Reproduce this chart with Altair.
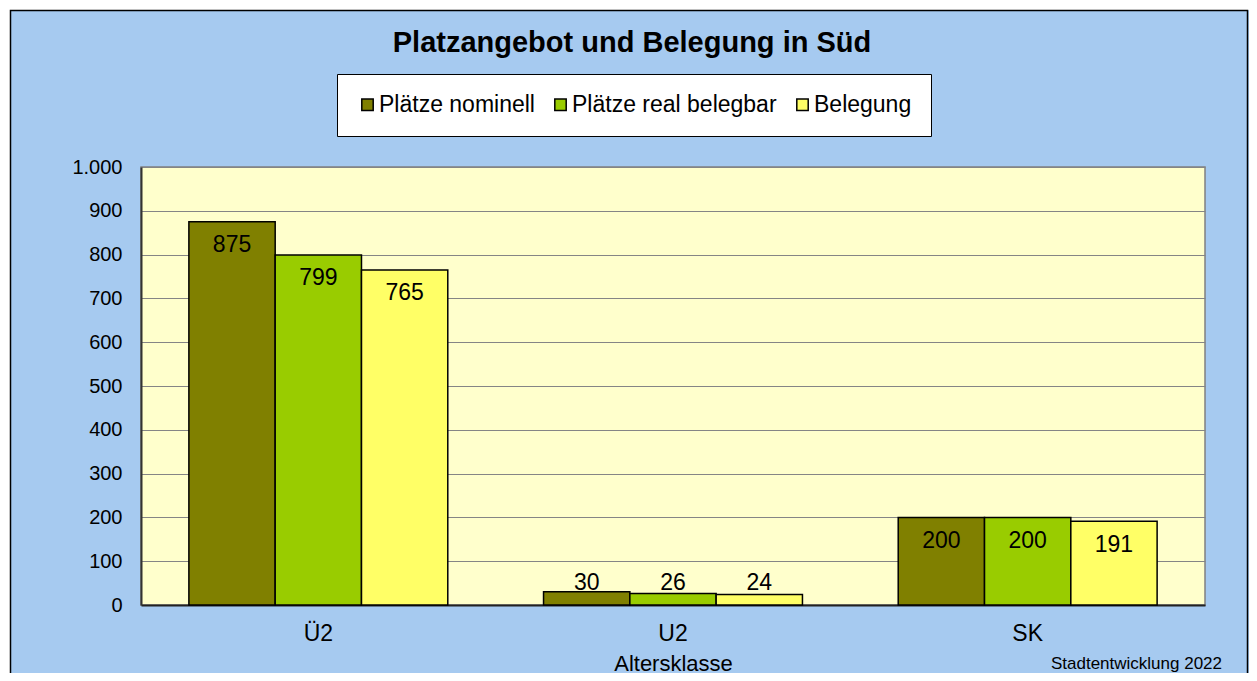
import altair as alt
import pandas as pd

categories = ["Ü2", "U2", "SK"]
series = ["Plätze nominell", "Plätze real belegbar", "Belegung"]
nominell = [875, 30, 200]
real_belegbar = [799, 26, 200]
belegung = [765, 24, 191]
colors = ["#808000", "#99CC00", "#FFFF66"]
y_ticks = list(range(0, 1001, 100))
title_text = "Platzangebot und Belegung in Süd"
x_title = "Altersklasse"
footnote = "Stadtentwicklung 2022"

rows = []
for s, vals in zip(series, [nominell, real_belegbar, belegung]):
    for c, v in zip(categories, vals):
        rows.append({"Altersklasse": c, "Serie": s, "Wert": v})
df = pd.DataFrame(rows)

W, H = 1064, 438
FONT = "Liberation Sans"

x_enc = alt.X(
    "Altersklasse:N", sort=categories,
    scale=alt.Scale(paddingInner=0.27, paddingOuter=0.135),
    axis=alt.Axis(title=x_title, labelAngle=0, labelFontSize=23, labelPadding=17,
                  ticks=False, tickSize=0, titleFontSize=22, titleFontWeight="normal",
                  titlePadding=8, domainColor="#222222", domainWidth=2,
                  labelColor="black", titleColor="black"),
)
xo_enc = alt.XOffset("Serie:N", sort=series, scale=alt.Scale(paddingInner=0, paddingOuter=0))
y_enc = alt.Y(
    "Wert:Q", title=None, scale=alt.Scale(domain=[0, 1000]),
    axis=alt.Axis(values=y_ticks,
                  labelExpr="replace(format(datum.value, ','), ',', '.')",
                  labelFontSize=20, labelPadding=19, ticks=False, tickSize=0,
                  grid=True, gridColor="#858585", gridWidth=1.2,
                  domainColor="#333333", domainWidth=2, labelColor="black"),
)
color_enc = alt.Color(
    "Serie:N", sort=series, scale=alt.Scale(domain=series, range=colors),
    legend=alt.Legend(orient="none", legendX=196, legendY=-93, direction="horizontal",
                      title=None, fillColor="white", strokeColor="black", padding=19,
                      symbolType="square", symbolSize=130, symbolStrokeColor="black",
                      symbolStrokeWidth=1.5, symbolOpacity=1, labelFontSize=23, labelOffset=0,
                      columnPadding=14, labelLimit=400, labelColor="black"),
)

bars = alt.Chart(df).mark_bar(stroke="black", strokeWidth=1.5, opacity=1).encode(
    x=x_enc, xOffset=xo_enc, y=y_enc, color=color_enc
)

labels = alt.Chart(df).transform_calculate(
    pos="max(datum.Wert - 53, 50)"
).mark_text(fontSize=23, baseline="middle", align="center", color="black").encode(
    x=alt.X("Altersklasse:N", sort=categories),
    xOffset=alt.XOffset("Serie:N", sort=series),
    y=alt.Y("pos:Q", title=None, scale=alt.Scale(domain=[0, 1000])),
    text=alt.Text("Wert:Q"),
)

one = pd.DataFrame({"t": [title_text], "f": [footnote]})

white_frame = alt.Chart(one).mark_rect(fillOpacity=0, stroke="white", strokeWidth=2.5).encode(
    x=alt.value(-132), x2=alt.value(1112), y=alt.value(-158), y2=alt.value(600)
)
black_frame = alt.Chart(one).mark_rect(fillOpacity=0, stroke="black", strokeWidth=1.5).encode(
    x=alt.value(-130.5), x2=alt.value(1106.5), y=alt.value(-156.5), y2=alt.value(600)
)

title_mark = alt.Chart(one).mark_text(fontSize=29, fontWeight="bold", baseline="middle",
                                      align="center", color="black").encode(
    x=alt.value(491), y=alt.value(-124), text="t:N"
)
foot_mark = alt.Chart(one).mark_text(fontSize=17, baseline="middle", align="right",
                                     color="black").encode(
    x=alt.value(1081), y=alt.value(497), text="f:N"
)

chart = alt.layer(white_frame, black_frame, bars, labels, title_mark, foot_mark).properties(
    width=W, height=H,
    autosize=alt.AutoSizeParams(type="none"),
    padding={"left": 133, "top": 159, "right": 44, "bottom": 68},
    background="#A6CAF0",
).configure(font=FONT).configure_view(
    fill="#FFFFCC", stroke="#808080", strokeWidth=1.5
)

chart.save("out.html", embed_options={"renderer": "svg", "actions": False})
